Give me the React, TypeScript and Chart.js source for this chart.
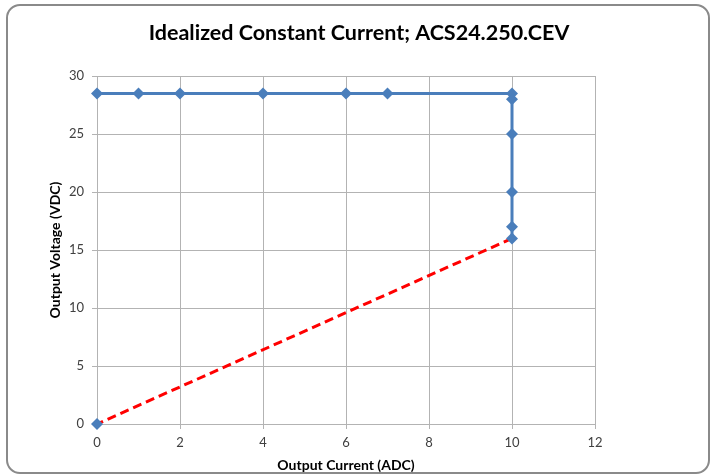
import React, { useEffect, useRef } from "react";
import { Chart, registerables } from "chart.js";

Chart.register(...registerables);

const currentA = [0, 1, 2, 4, 6, 7, 10, 10, 10, 10, 10, 10, 0];
const voltageV = [28.5, 28.5, 28.5, 28.5, 28.5, 28.5, 28.5, 28, 25, 20, 17, 16, 0];
const titleText = "Idealized Constant Current; ACS24.250.CEV";
const xTitle = "Output Current (ADC)";
const yTitle = "Output Voltage (VDC)";

const BLUE = "#4a7ebb";
const RED = "#ff0000";
const FONT = "Lato, 'Open Sans', sans-serif";

const titlePlugin = {
  id: "centerTitle",
  afterDraw(chart: any) {
    const ctx = chart.ctx;
    ctx.save();
    ctx.font = `bold 21.5px ${FONT}`;
    ctx.fillStyle = "#000";
    ctx.textAlign = "center";
    ctx.textBaseline = "middle";
    ctx.fillText(titleText, 359, 33);
    ctx.restore();
  },
};

export default function App() {
  const ref = useRef<HTMLCanvasElement | null>(null);
  useEffect(() => {
    document.body.style.margin = "0";
    const canvas = ref.current!;
    const last = currentA.length - 1;
    const chart = new Chart(canvas, {
      type: "scatter",
      data: {
        datasets: [
          {
            data: currentA.map((x, i) => ({ x, y: voltageV[i] })),
            showLine: true,
            borderColor: BLUE,
            backgroundColor: BLUE,
            borderWidth: 3,
            pointStyle: "rectRot",
            pointRadius: 6,
            pointBackgroundColor: BLUE,
            pointBorderColor: BLUE,
            pointBorderWidth: 0,
            clip: false,
            segment: {
              borderColor: (ctx: any) => (ctx.p1DataIndex === last ? RED : undefined),
              borderDash: (ctx: any) => (ctx.p1DataIndex === last ? [9, 5] : undefined),
            },
          } as any,
        ],
      },
      options: {
        responsive: false,
        animation: false,
        layout: { padding: { left: 43, right: 120, top: 76, bottom: 0 } },
        plugins: {
          legend: { display: false },
          tooltip: { enabled: false },
          title: { display: false },
        },
        scales: {
          x: {
            type: "linear",
            min: 0,
            max: 12,
            ticks: {
              stepSize: 2,
              color: "#404040",
              font: { family: FONT, size: 13 },
              padding: 6,
              maxRotation: 0,
            },
            grid: { color: "#b3b3b3", lineWidth: 1, tickLength: 5 },
            border: { color: "#b3b3b3" },
            title: {
              display: true,
              text: xTitle,
              color: "#000",
              font: { family: FONT, size: 14, weight: "bold" },
              padding: { top: 0, bottom: 2 },
            },
            afterFit: (s: any) => {
              s.height = 52;
            },
          },
          y: {
            type: "linear",
            min: 0,
            max: 30,
            ticks: {
              stepSize: 5,
              color: "#404040",
              font: { family: FONT, size: 13 },
              padding: 8,
            },
            grid: { color: "#b3b3b3", lineWidth: 1, tickLength: 5 },
            border: { color: "#b3b3b3" },
            title: {
              display: true,
              text: yTitle,
              color: "#000",
              font: { family: FONT, size: 14, weight: "bold" },
              padding: { top: 4, bottom: 0 },
            },
            afterFit: (s: any) => {
              s.width = 54;
            },
          },
        },
      },
      plugins: [titlePlugin],
    });
    return () => chart.destroy();
  }, []);

  return (
    <div style={{ position: "relative", width: 715, height: 476, overflow: "hidden", background: "#fff" }}>
      <div
        style={{
          position: "absolute",
          left: 6,
          top: 4,
          width: 700,
          height: 466,
          border: "2px solid #8a8a8a",
          borderRadius: 14,
        }}
      />
      <canvas ref={ref} width={715} height={476} style={{ position: "absolute", left: 0, top: 0 }} />
    </div>
  );
}
